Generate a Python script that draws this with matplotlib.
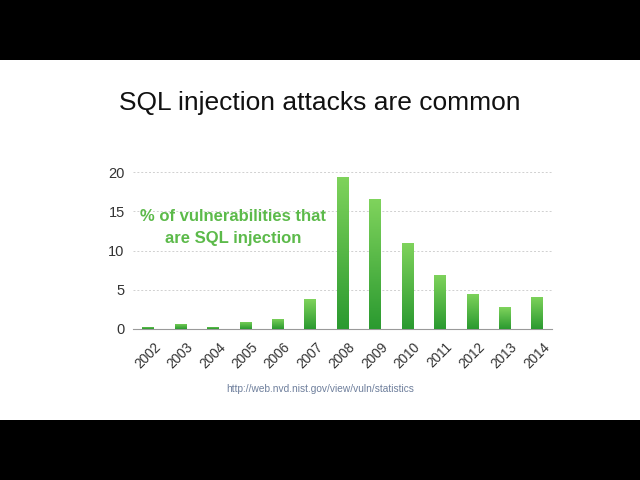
import numpy as np
import matplotlib.pyplot as plt
from matplotlib.colors import LinearSegmentedColormap

# Data
years = ['2002', '2003', '2004', '2005', '2006', '2007', '2008',
         '2009', '2010', '2011', '2012', '2013', '2014']
sqli_pct = [0.3, 0.65, 0.3, 0.9, 1.3, 3.8, 19.4, 16.5, 11.0, 6.9, 4.5, 2.75, 4.1]

plt.rcParams['font.family'] = ['Liberation Sans', 'DejaVu Sans']

fig = plt.figure(figsize=(6.4, 4.8), dpi=100, facecolor='black')

# white slide area between black bands
bg = fig.add_axes([0, 60 / 480, 1, 360 / 480])
bg.set_facecolor('white')
bg.set_xticks([])
bg.set_yticks([])
for s in bg.spines.values():
    s.set_visible(False)

fig.text(0.5, 1 - 103 / 480, 'SQL injection attacks are common',
         ha='center', va='center', fontsize=19, color='#111111')

ax = fig.add_axes([133 / 640, 1 - 329 / 480, (552 - 133) / 640, (329 - 172) / 480])
ax.set_facecolor('none')

x = np.arange(len(years))
bars = ax.bar(x, sqli_pct, width=0.35, color='none', zorder=3)

# green vertical gradient inside each bar
cmap = LinearSegmentedColormap.from_list('g', ['#2b9a30', '#7fd35c'])
grad = np.linspace(0, 1, 100).reshape(-1, 1)
for b in bars:
    x0, y0 = b.get_x(), b.get_y()
    w, h = b.get_width(), b.get_height()
    im = ax.imshow(grad, cmap=cmap, origin='lower', aspect='auto',
                   extent=[x0, x0 + w, y0, y0 + h], zorder=3)
    im.set_clip_path(b)

ax.set_xlim(-0.46, len(years) - 1 + 0.46)
ax.set_ylim(0, 20)
ax.set_yticks([0, 5, 10, 15, 20])
ax.yaxis.grid(True, linestyle=(0, (2, 2)), color='#d0d0d0', linewidth=0.7, zorder=0)
ax.set_axisbelow(True)

for s in ['top', 'right', 'left']:
    ax.spines[s].set_visible(False)
ax.spines['bottom'].set_color('#9a9a9a')
ax.spines['bottom'].set_linewidth(0.8)

ax.tick_params(axis='y', length=0, labelsize=10.5, labelcolor='#333333', pad=6)
ax.tick_params(axis='x', length=0, labelsize=9.8, labelcolor='#333333', pad=8)
ax.set_xticks(x)
ax.set_xticklabels(years, rotation=45, ha='center')

ax.text(2.62, 12.95, '% of vulnerabilities that\nare SQL injection', ha='center',
        va='center', fontsize=12, fontweight='bold', color='#5cba4a',
        linespacing=1.55, zorder=4)

fig.text(0.5, 1 - 389 / 480, 'http://web.nvd.nist.gov/view/vuln/statistics',
         ha='center', va='center', fontsize=7.3, color='#6e7f9c')

fig.savefig('out.png', dpi=100, facecolor=fig.get_facecolor())
